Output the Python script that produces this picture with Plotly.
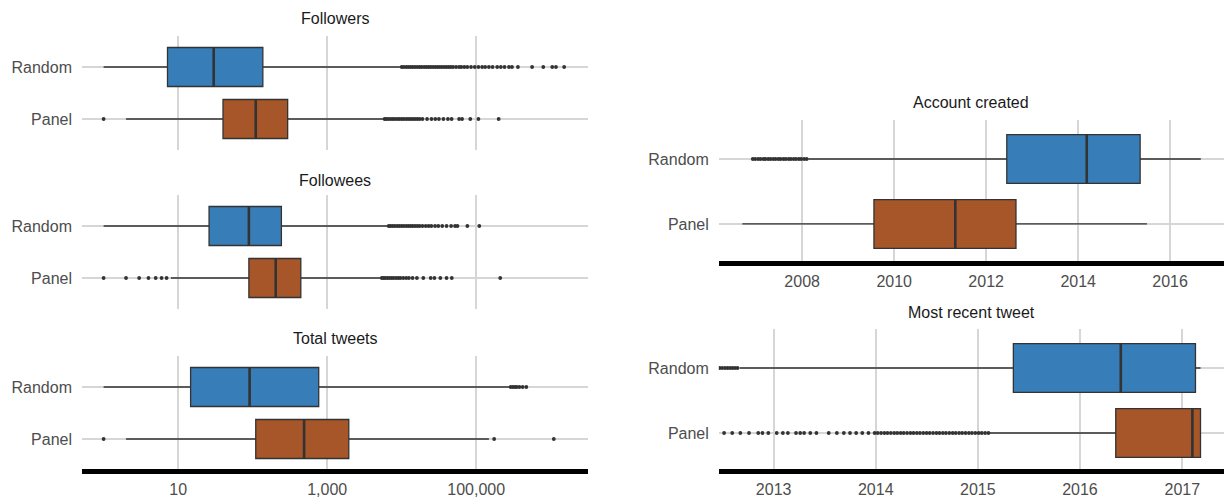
import plotly.graph_objects as go

# ---------------- data ----------------
groups = ["Random", "Panel"]
colors = {"Random": "#377EB8", "Panel": "#A65628"}

# left column (counts, log scale): [lowerfence, q1, median, q3, upperfence]
followers_stats = {"Random": [1, 7.2, 30, 137, 9900], "Panel": [2, 40, 110, 295, 5700]}
followees_stats = {"Random": [1, 26, 89, 243, 6600], "Panel": [8, 89, 204, 443, 5250]}
tweets_stats = {"Random": [1, 14.7, 91, 770, 282000], "Panel": [2, 110, 490, 1950, 148000]}

followers_out = {
    "Random": [10000, 10700, 11500, 12300, 13200, 14100, 15100, 16200, 17400, 18600, 20000,
               21400, 22900, 24500, 26300, 28200, 30200, 32400, 34700, 37200, 39800, 42700,
               45700, 49000, 53700, 58900, 63100, 69200, 75900, 85100, 95500, 107000, 120000,
               132000, 148000, 166000, 191000, 214000, 240000, 275000, 302000, 363000, 562000,
               794000, 1047000, 1175000, 1514000],
    "Panel": [1, 5900, 6200, 6600, 7100, 7600, 8100, 8700, 9300, 10000, 10700, 11500, 12300,
              13200, 14100, 15100, 16200, 17400, 19000, 21900, 25100, 28200, 31600, 36300,
              41700, 46800, 58900, 64600, 83200, 107000, 200000],
}
followees_out = {
    "Random": [6700, 7100, 7600, 8100, 8700, 9300, 10000, 10700, 11500, 12300, 13200, 14100,
               15100, 16200, 17400, 19000, 21000, 23000, 25000, 28000, 31000, 35000, 40000,
               46000, 52000, 56000, 76000, 110000],
    "Panel": [1, 2, 3, 4, 5, 6, 7, 5400, 5700, 6000, 6400, 6800, 7300, 7800, 8400, 9000, 9600,
              10500, 11500, 12500, 14000, 16000, 19500, 24500, 27500, 33000, 40000, 47000, 210000],
}
tweets_out = {
    "Random": [290000, 310000, 330000, 350000, 380000, 420000, 470000],
    "Panel": [1, 174000, 1100000],
}

# right column (dates)
created_stats = {
    "Random": ["2008-02-18", "2012-06-13", "2014-03-10", "2015-05-08", "2016-09-01"],
    "Panel": ["2006-09-13", "2009-07-24", "2011-05-01", "2012-08-25", "2015-07-01"],
}
recent_stats = {
    "Random": ["2012-09-02", "2015-05-08", "2016-05-26", "2017-02-17", "2017-03-07"],
    "Panel": ["2015-02-10", "2016-05-08", "2017-02-06", "2017-03-07", "2017-03-08"],
}
created_out = {
    "Random": ["2006-12-05", "2006-12-24", "2007-01-16", "2007-02-04", "2007-02-27",
               "2007-03-15", "2007-04-06", "2007-04-24", "2007-05-16", "2007-06-04",
               "2007-06-26", "2007-07-14", "2007-08-06", "2007-08-24", "2007-09-16",
               "2007-10-04", "2007-10-26", "2007-11-14", "2007-12-06", "2007-12-24",
               "2008-01-16", "2008-02-06"],
    "Panel": [],
}
recent_out = {
    "Random": ["2012-06-22", "2012-07-01", "2012-07-11", "2012-07-20", "2012-07-29",
               "2012-08-07", "2012-08-16", "2012-08-25"],
    "Panel": ["2012-07-08", "2012-08-06", "2012-09-04", "2012-10-05", "2012-11-07",
              "2012-11-22", "2012-12-13", "2013-01-12", "2013-02-03", "2013-02-21",
              "2013-03-22", "2013-04-06", "2013-04-20", "2013-05-12", "2013-06-03",
              "2013-07-17", "2013-08-15", "2013-09-09", "2013-10-01", "2013-10-23",
              "2013-11-14", "2013-12-06", "2013-12-28", "2014-01-08", "2014-01-20",
              "2014-02-01", "2014-02-12", "2014-02-24", "2014-03-08", "2014-03-19",
              "2014-03-31", "2014-04-11", "2014-04-23", "2014-05-05", "2014-05-16",
              "2014-05-28", "2014-06-08", "2014-06-20", "2014-07-02", "2014-07-13",
              "2014-07-25", "2014-08-06", "2014-08-17", "2014-08-29", "2014-09-09",
              "2014-09-21", "2014-10-03", "2014-10-14", "2014-10-26", "2014-11-06",
              "2014-11-18", "2014-11-30", "2014-12-11", "2014-12-23", "2015-01-04",
              "2015-01-15", "2015-01-27", "2015-02-08"],
}

panel_titles = ["Followers", "Followees", "Total tweets", "Account created", "Most recent tweet"]
count_tickvals = [10, 1000, 100000]
count_ticktext = ["10", "1,000", "100,000"]

# ---------------- figure ----------------
W, H = 1227, 500
M_L, M_R, M_T, M_B = 82, 3, 30, 31
PH = H - M_T - M_B


def yfrac(py):
    return (H - M_B - py) / PH


FONT = "Liberation Sans, Arial, sans-serif"
GRID = "#d6d6d6"
EDGE = "#333333"

fig = go.Figure()

panels = [
    (followers_stats, followers_out, "x", "y"),
    (followees_stats, followees_out, "x2", "y2"),
    (tweets_stats, tweets_out, "x3", "y3"),
    (created_stats, created_out, "x4", "y4"),
    (recent_stats, recent_out, "x5", "y5"),
]

for stats, outs, xa, ya in panels:
    for g in groups:
        lf, q1, med, q3, uf = stats[g]
        fig.add_trace(go.Box(
            orientation="h", y=[g], q1=[q1], median=[med], q3=[q3],
            lowerfence=[lf], upperfence=[uf], boxpoints=False,
            fillcolor=colors[g], line=dict(color=EDGE, width=1.3),
            width=0.75, whiskerwidth=0, xaxis=xa, yaxis=ya,
            showlegend=False, hoverinfo="skip",
        ))
        # thicker median bar (ggplot style)
        fig.add_trace(go.Box(
            orientation="h", y=[g], q1=[med], median=[med], q3=[med],
            lowerfence=[med], upperfence=[med], boxpoints=False,
            fillcolor="rgba(0,0,0,0)", line=dict(color=EDGE, width=2.6),
            width=0.75, whiskerwidth=0, xaxis=xa, yaxis=ya,
            showlegend=False, hoverinfo="skip",
        ))
        if outs[g]:
            fig.add_trace(go.Scatter(
                x=outs[g], y=[g] * len(outs[g]), mode="markers",
                marker=dict(size=3.8, color=EDGE, line=dict(width=0)),
                xaxis=xa, yaxis=ya, showlegend=False, hoverinfo="skip",
            ))

left_dom = [0, (588 - M_L) / (W - M_L - M_R)]
right_dom = [(718.8 - M_L) / (W - M_L - M_R), 1]

ydoms = {
    "yaxis": ([yfrac(150.2), yfrac(35.8)], [-0.6, 1.6]),
    "yaxis2": ([yfrac(309.2), yfrac(194.8)], [-0.6, 1.6]),
    "yaxis3": ([0, yfrac(355.8)], [-0.577, 1.6]),
    "yaxis4": ([yfrac(261), yfrac(120)], [-0.57, 1.6]),
    "yaxis5": ([0, yfrac(329)], [-0.554, 1.6]),
}

layout = dict(
    width=W, height=H,
    margin=dict(l=M_L, r=M_R, t=M_T, b=M_B),
    paper_bgcolor="white", plot_bgcolor="white",
    font=dict(family=FONT, size=16, color="#4d4d4d"),
)

xnames = ["xaxis", "xaxis2", "xaxis3", "xaxis4", "xaxis5"]
ynames = ["yaxis", "yaxis2", "yaxis3", "yaxis4", "yaxis5"]
for i, (xn, yn) in enumerate(zip(xnames, ynames)):
    anchor_y = "y" if i == 0 else f"y{i+1}"
    anchor_x = "x" if i == 0 else f"x{i+1}"
    if i < 3:
        xa = dict(
            domain=left_dom, anchor=anchor_y, type="log", range=[-0.29, 6.5],
            tickvals=count_tickvals, ticktext=count_ticktext,
            showticklabels=(i == 2), showline=(i == 2),
        )
    elif i == 3:
        xa = dict(
            domain=right_dom, anchor=anchor_y, type="date",
            range=["2006-03-10", "2017-03-04"], tick0="2008-01-01", dtick="M24",
            tickformat="%Y", showline=True,
        )
    else:
        xa = dict(
            domain=right_dom, anchor=anchor_y, type="date",
            range=["2012-06-19", "2017-05-30"], tick0="2013-01-01", dtick="M12",
            tickformat="%Y", showline=True,
        )
    xa.update(showgrid=True, gridcolor=GRID, gridwidth=2, zeroline=False,
              linecolor="black", linewidth=4.5, ticks="", ticklabelstandoff=2,
              tickfont=dict(size=16, color="#4d4d4d"))
    layout[xn] = xa
    dom, rng = ydoms[yn]
    layout[yn] = dict(
        domain=dom, anchor=anchor_x, type="category",
        categoryorder="array", categoryarray=["Panel", "Random"], range=rng,
        showgrid=True, gridcolor=GRID, gridwidth=2, zeroline=False, showline=False,
        ticks="", ticklabelstandoff=9, tickfont=dict(size=16, color="#4d4d4d"),
    )

fig.update_layout(**layout)

title_pos = [(335, 18), (335, 180), (335, 338), (971.4, 103), (971.4, 312)]
for t, (px, py) in zip(panel_titles, title_pos):
    fig.add_annotation(
        text=t, xref="paper", yref="paper",
        x=(px - M_L) / (W - M_L - M_R), y=yfrac(py),
        xanchor="center", yanchor="middle", showarrow=False,
        font=dict(family=FONT, size=16, color="#1a1a1a"),
    )

fig.write_html("out.html")
